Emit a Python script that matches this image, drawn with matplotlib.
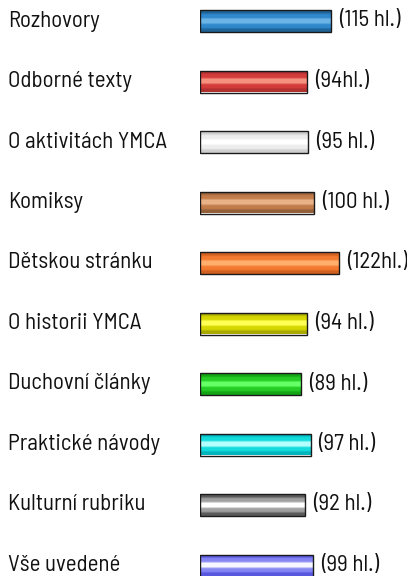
import matplotlib
matplotlib.use("Agg")
import matplotlib.pyplot as plt
import matplotlib.font_manager as fm
from matplotlib.colors import LinearSegmentedColormap
from matplotlib.transforms import blended_transform_factory
import numpy as np

categories = ["Rozhovory", "Odborné texty", "O aktivitách YMCA", "Komiksy",
              "Dětskou stránku", "O historii YMCA", "Duchovní články",
              "Praktické návody", "Kulturní rubriku", "Vše uvedené"]
values = [115, 94, 95, 100, 122, 94, 89, 97, 92, 99]
value_labels = ["(115 hl.)", "(94hl.)", "(95 hl.)", "(100 hl.)", "(122hl.)",
                "(94 hl.)", "(89 hl.)", "(97 hl.)", "(92 hl.)", "(99 hl.)"]
# (dark edge, base, light centre)
bar_colors = [
    ("#1f6498", "#2f88cc", "#6cb4e6"),
    ("#b03030", "#d43c3c", "#f4917f"),
    ("#cfcfcf", "#ededed", "#ffffff"),
    ("#94603a", "#c27c4a", "#e8b286"),
    ("#d06020", "#f47a30", "#ffae6c"),
    ("#a8a800", "#d6d600", "#ffff55"),
    ("#14a414", "#24cc24", "#66ff66"),
    ("#00b4bc", "#14dcdc", "#b4ffff"),
    ("#5a5a5a", "#a0a0a0", "#ffffff"),
    ("#5757e0", "#8585f4", "#f6f6ff"),
]

names = {f.name for f in fm.fontManager.ttflist}
family = ["DejaVu Sans"]
for cand in ["Barlow Semi Condensed", "Saira Condensed", "Roboto Condensed"]:
    if cand in names:
        family = [cand, "DejaVu Sans"]
        break
fsize = 16.5

W, H, DPI = 407, 576, 100
fig = plt.figure(figsize=(W / DPI, H / DPI), dpi=DPI)
x0_px = 200
px_per_unit = 1.14
row0_px = 21
row_step_px = 60.5
ax = fig.add_axes([x0_px / W, 0, 1 - x0_px / W, 1])
xlim = (0, (W - x0_px) / px_per_unit)
ylim = ((H - row0_px) / row_step_px, -row0_px / row_step_px)
ax.axis("off")

bar_h = 22 / row_step_px
for i, (v, cols) in enumerate(zip(values, bar_colors)):
    dark, base, light = cols
    cmap = LinearSegmentedColormap.from_list(
        "g", [(0, dark), (0.1, dark), (0.2, base), (0.32, base), (0.42, light),
              (0.58, light), (0.68, base), (0.8, base), (0.9, dark), (1.0, dark)])
    bars = ax.barh(i, v, height=bar_h, left=0, facecolor="none",
                   edgecolor="#1a1a1a", linewidth=1.0, zorder=3)
    grad = np.linspace(0, 1, 22).reshape(-1, 1)
    im = ax.imshow(grad, cmap=cmap, aspect="auto", interpolation="nearest",
                   extent=(0, v, i + bar_h / 2, i - bar_h / 2), zorder=2)
    im.set_clip_path(bars[0])
    ax.text(v + 8 / px_per_unit, i, value_labels[i], va="center", ha="left",
            fontsize=fsize, family=family, color="#111111")

ax.set_xlim(*xlim)
ax.set_ylim(*ylim)

tr = blended_transform_factory(fig.transFigure, ax.transData)
for i, c in enumerate(categories):
    ax.text(8 / W, i, c, transform=tr, va="center", ha="left",
            fontsize=fsize, family=family, color="#111111")

fig.savefig("out.png", dpi=DPI)
